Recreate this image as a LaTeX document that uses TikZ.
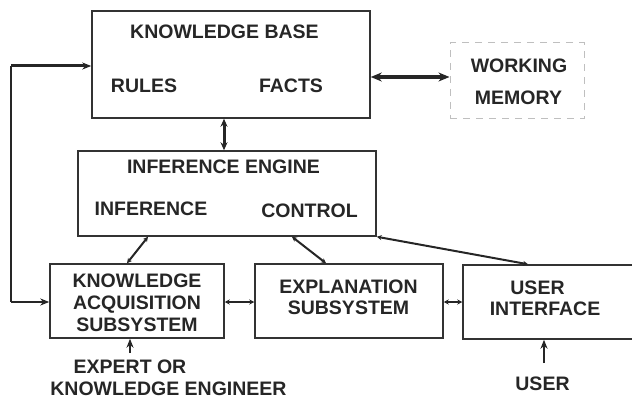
\documentclass[tikz,border=0pt]{standalone}
\usepackage{fontspec}
\setmainfont{Liberation Sans}
\usetikzlibrary{arrows.meta}
\begin{document}
\begin{tikzpicture}[x=1pt,y=-1pt,
  box/.style={draw=black!80,line width=1.5pt,inner sep=0pt},
  lbl/.style={inner sep=0pt,text=black!85,font=\bfseries\fontsize{19.5}{20}\selectfont,text height=14pt,text depth=0pt},
  conn/.style={draw=black!85,line width=2pt},
  big/.style={{Stealth[length=11pt,width=9pt]}-{Stealth[length=11pt,width=9pt]}},
  med/.style={{Stealth[length=8pt,width=7pt]}-{Stealth[length=8pt,width=7pt]}},
  small/.style={{Stealth[length=5pt,width=5pt]}-{Stealth[length=5pt,width=5pt]}},
  one/.style={-{Stealth[length=9pt,width=7pt]}}]
\useasboundingbox (0,0) rectangle (632,401);
% boxes
\node[box,minimum width=278pt,minimum height=107pt] (KB) at (231,64.5) {};
\node[draw=black!25,line width=1pt,dash pattern=on 7pt off 6pt,inner sep=0pt,minimum width=134pt,minimum height=76pt] (WM) at (517,81) {};
\node[box,minimum width=298pt,minimum height=85pt] (IE) at (227,193.5) {};
\node[box,minimum width=174pt,minimum height=74pt] (KA) at (137,301) {};
\node[box,minimum width=188pt,minimum height=74pt] (EX) at (349,301) {};
\node[box,minimum width=187pt,minimum height=74pt] (UI) at (556.5,302) {};
% texts
\node[lbl] (t1) at (224.5,32) {KNOWLEDGE BASE};
\node[lbl] (t2) at (144,86) {RULES};
\node[lbl] (t3) at (291,86) {FACTS};
\node[lbl] (t4) at (519,66) {WORKING};
\node[lbl] (t5) at (518.5,98) {MEMORY};
\node[lbl] (t6) at (223.5,166) {INFERENCE ENGINE};
\node[lbl] (t7) at (151,208) {INFERENCE};
\node[lbl] (t8) at (309.5,210) {CONTROL};
\node[lbl] (t9) at (137,280) {KNOWLEDGE};
\node[lbl] (t10) at (137,302) {ACQUISITION};
\node[lbl] (t11) at (137,324) {SUBSYSTEM};
\node[lbl] (t12) at (348.5,286) {EXPLANATION};
\node[lbl] (t13) at (348.5,307) {SUBSYSTEM};
\node[lbl] (t14) at (537.5,287) {USER};
\node[lbl] (t15) at (545,308) {INTERFACE};
\node[lbl] (t16) at (130,366) {EXPERT OR};
\node[lbl] (t17) at (168.5,388) {KNOWLEDGE ENGINEER};
\node[lbl] (t18) at (542.5,383) {USER};
% coordinates
\coordinate (fbTop) at (11,66);
\coordinate (fbBot) at (11,302);
\coordinate (kbwm) at (400,77);
\coordinate (kbie) at (224,135);
\coordinate (ieka1) at (148,0);
\coordinate (ieka2) at (127,0);
\coordinate (ieex1) at (292,0);
\coordinate (ieex2) at (326,0);
\coordinate (ieui) at (528,0);
\coordinate (mid) at (0,302);
\coordinate (expert) at (130,353);
\coordinate (user) at (544,363);
% connectors
\draw[conn,line width=2pt] (fbTop) -- (fbBot);
\draw[conn,line width=3pt,one] (fbTop) -- (fbTop -| KB.west);
\draw[conn,line width=2.6pt,one] (fbBot) -- (fbBot -| KA.west);
\draw[conn,line width=3.6pt,big] (kbwm -| KB.east) -- (kbwm -| WM.west);
\draw[conn,line width=3pt,med] (KB.south -| kbie) -- (IE.north -| kbie);
\draw[conn,small] (IE.south -| ieka1) -- (KA.north -| ieka2);
\draw[conn,small] (IE.south -| ieex1) -- (EX.north -| ieex2);
\draw[conn,small] (IE.south east) -- (UI.north -| ieui);
\draw[conn,line width=1.8pt,small] (mid -| KA.east) -- (mid -| EX.west);
\draw[conn,line width=1.8pt,small] (mid -| EX.east) -- (mid -| UI.west);
\draw[conn,one] (expert) -- (KA.south -| expert);
\draw[conn,line width=2.5pt,one] (user) -- (UI.south -| user);
\end{tikzpicture}
\end{document}
